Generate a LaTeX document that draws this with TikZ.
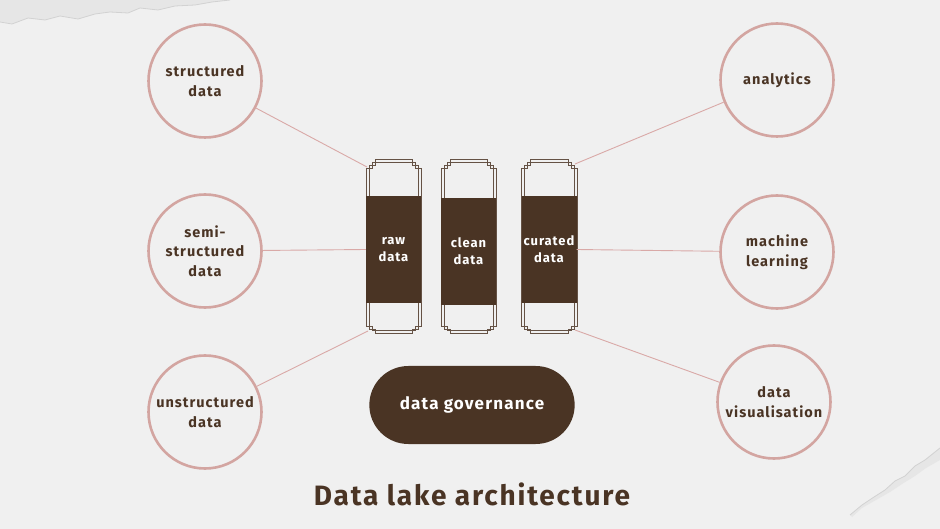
\documentclass[tikz,border=0pt]{standalone}
\usepackage{fontspec}
\setmainfont{Fira Sans}
\newfontfamily\spacedfont[LetterSpace=7]{Fira Sans}
\newfontfamily\titlefont[LetterSpace=6.5]{Fira Sans}
\definecolor{bg}{HTML}{F0F0F0}
\definecolor{brown}{HTML}{4A3424}
\definecolor{pinkring}{HTML}{D3A5A1}
\definecolor{pinkline}{HTML}{D9A9A7}
\definecolor{torn}{HTML}{E6E6E6}
\definecolor{tornedge}{HTML}{D2D2D2}
\usetikzlibrary{shapes.misc}
\begin{document}
\begin{tikzpicture}[x=1pt,y=-1pt,
  ring/.style={circle,draw=pinkring,line width=2.6pt,minimum size=113pt,inner sep=0pt,
    align=center,text=brown,font=\spacedfont\fontsize{14.5}{19.5}\selectfont\bfseries},
  colbox/.style={rectangle,fill=brown,minimum width=55pt,minimum height=107pt,inner sep=0pt,
    align=center,text=white,font=\spacedfont\fontsize{13}{17}\selectfont\bfseries},
  frame/.style={draw=brown!85,line width=0.7pt},
  link/.style={draw=pinkline,line width=0.9pt},
  pill/.style={rounded rectangle,fill=brown,minimum width=212pt,minimum height=78pt,
    text=white,font=\spacedfont\fontsize{17}{20}\selectfont\bfseries}]
\fill[bg] (0,0) rectangle (940,529);
\useasboundingbox (0,0) rectangle (940,529);
% torn paper strips
\fill[torn] (0,0) -- (0,22) -- (12,24) -- (28,18) -- (45,20) -- (60,16) -- (78,19) -- (95,14) -- (110,12) -- (128,13) -- (140,8) -- (158,10) -- (175,6) -- (195,5) -- (212,2) -- (230,0) -- cycle;
\draw[tornedge,line width=0.8pt] (0,22) -- (12,24) -- (28,18) -- (45,20) -- (60,16) -- (78,19) -- (95,14) -- (110,12) -- (128,13) -- (140,8) -- (158,10) -- (175,6) -- (195,5) -- (212,2) -- (230,0);
\fill[torn] (850,515) -- (862,505) -- (874,497) -- (885,490) -- (895,481) -- (905,476) -- (915,466) -- (925,460) -- (940,448) -- (940,460) -- (926,468) -- (915,476) -- (902,484) -- (890,492) -- (876,500) -- (862,508) -- (852,517) -- cycle;
\draw[tornedge,line width=0.8pt] (850,515) -- (862,505) -- (874,497) -- (885,490) -- (895,481) -- (905,476) -- (915,466) -- (925,460) -- (940,448);

% circles
\node[ring] (c1) at (205,81) {structured\\data};
\node[ring] (c2) at (205,251) {semi-\\structured\\data};
\node[ring] (c3) at (205,412) {unstructured\\data};
\node[ring] (c4) at (777,80) {analytics};
\node[ring] (c5) at (777,252) {machine\\learning};
\node[ring] (c6) at (774,402) {data\\visualisation};

% column frames
\foreach \L/\R in {366/421, 441/496, 521/577}{
  \pgfmathsetmacro{\La}{\L}\pgfmathsetmacro{\Ra}{\R}
  \draw[frame] (\La,168) -- (\La+6,168) -- (\La+6,162) -- (\Ra-6,162) -- (\Ra-6,168) -- (\Ra,168) -- (\Ra,326) -- (\Ra-6,326) -- (\Ra-6,330) -- (\La+6,330) -- (\La+6,326) -- (\La,326) -- cycle;
  \draw[frame] (\La+3,165) -- (\La+9,165) -- (\La+9,159) -- (\Ra-9,159) -- (\Ra-9,165) -- (\Ra-3,165) -- (\Ra-3,329) -- (\Ra-9,329) -- (\Ra-9,333) -- (\La+9,333) -- (\La+9,329) -- (\La+3,329) -- cycle;
}
\node[colbox] (raw) at (393.5,249.5) {raw\\data};
\node[colbox] (clean) at (468.5,251.5) {clean\\data};
\node[colbox] (curated) at (549,249.5) {curated\\data};

\coordinate (rawTL) at (367,167);
\coordinate (rawBL) at (368,331);
\coordinate (curTR) at (575,164);
\coordinate (curBR) at (575,330);

\draw[link] (c1) -- (rawTL);
\draw[link] (c2) -- (raw.west);
\draw[link] (c3) -- (rawBL);
\draw[link] (c4) -- (curTR);
\draw[link] (c5) -- (curated.east);
\draw[link] (c6) -- (curBR);

\node[pill] (gov) at (472,405) {data governance};
\node[text=brown,font=\titlefont\fontsize{28}{32}\selectfont\bfseries] (title) at (472,494) {Data lake architecture};
\end{tikzpicture}
\end{document}
